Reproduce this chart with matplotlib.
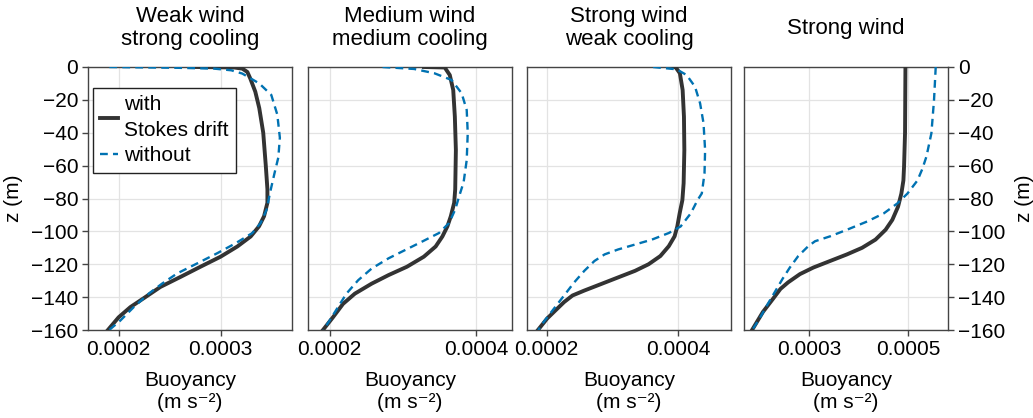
import numpy as np
import matplotlib
matplotlib.use("Agg")
import matplotlib.pyplot as plt
from matplotlib.ticker import FormatStrFormatter

plt.rcParams["font.family"] = ["Liberation Sans", "DejaVu Sans"]
plt.rcParams["font.size"] = 15

# buoyancy profiles, b in units of 1e-4 m s^-2, z in m
titles = ["Weak wind\nstrong cooling", "Medium wind\nmedium cooling",
          "Strong wind\nweak cooling", "Strong wind"]

z1_with = [0, -0.3, -1, -3, -7, -15, -25, -40, -60, -74.4, -82.6, -90.8, -96.9,
           -103.1, -109.2, -115.4, -121.5, -127.7, -133.8, -140, -146.1, -152.3, -160]
b1_with = [2.762, 3.134, 3.213, 3.262, 3.291, 3.340, 3.379, 3.418, 3.443, 3.459,
           3.459, 3.426, 3.377, 3.295, 3.164, 3.000, 2.803, 2.607, 2.410, 2.262,
           2.115, 2.000, 1.895]
z1_without = [0, -0.5, -1, -2, -4, -10, -17, -29, -43, -55, -65, -76.4, -86.7, -94.9,
              -101, -107.2, -113.3, -119.5, -125.6, -131.8, -137.9, -146.1, -154.3, -160]
b1_without = [1.909, 2.595, 2.938, 3.105, 3.213, 3.379, 3.497, 3.556, 3.581, 3.566,
              3.527, 3.485, 3.452, 3.393, 3.311, 3.148, 2.967, 2.770, 2.574, 2.426,
              2.295, 2.148, 2.016, 1.908]

z2_with = [0, -0.3, -4.9, -14, -30.2, -50.5, -74.4, -82.6, -90.8, -96.9, -103.1,
           -109.2, -115.4, -121.5, -126.6, -131.8, -137.9, -144.1, -152.3, -160]
b2_with = [3.288, 3.572, 3.641, 3.688, 3.710, 3.724, 3.715, 3.701, 3.655, 3.609,
           3.540, 3.448, 3.287, 3.057, 2.805, 2.575, 2.345, 2.184, 2.046, 1.910]
z2_without = [0, -1.2, -3.8, -7.9, -16, -26.2, -40.1, -56.6, -70, -78.5, -86.7,
              -94.9, -101, -106.2, -111.3, -116.4, -122.6, -129.7, -137.9, -146.1,
              -154.3, -160]
b2_without = [2.723, 3.154, 3.430, 3.665, 3.803, 3.872, 3.886, 3.872, 3.830, 3.770,
              3.715, 3.632, 3.494, 3.264, 3.034, 2.805, 2.575, 2.391, 2.230, 2.115,
              2.000, 1.915]

z3_with = [0, -0.2, -3.8, -14, -30.2, -50.5, -70.7, -81, -89, -97, -103, -109, -115,
           -120, -124, -128, -132, -136, -139, -143, -148, -153, -160]
b3_with = [3.928, 3.960, 4.024, 4.066, 4.086, 4.092, 4.081, 4.062, 4.021, 3.985,
           3.944, 3.856, 3.728, 3.549, 3.344, 3.087, 2.831, 2.574, 2.395, 2.267,
           2.138, 2.010, 1.870]
z3_without = [0, -1.4, -4.9, -12, -22.1, -34.2, -50.5, -64.7, -76.9, -81, -89, -97,
              -101, -105, -108, -111, -114, -118, -124, -131, -139, -147, -155, -160]
b3_without = [3.617, 3.974, 4.127, 4.254, 4.331, 4.383, 4.407, 4.398, 4.357, 4.292,
              4.190, 4.036, 3.856, 3.600, 3.344, 3.087, 2.882, 2.728, 2.574, 2.421,
              2.267, 2.113, 1.959, 1.875]

z4_with = [0, -40, -60.6, -69, -77, -85, -93, -99, -105, -110, -114, -118, -122,
           -126, -131, -135, -141, -149, -160]
b4_with = [4.940, 4.932, 4.912, 4.899, 4.858, 4.791, 4.676, 4.541, 4.338, 4.068,
           3.764, 3.426, 3.088, 2.818, 2.581, 2.426, 2.277, 2.074, 1.855]
z4_without = [0, -20, -40.3, -54.5, -62, -69, -77, -83, -89, -94, -99, -103, -106,
              -109, -115, -122, -129, -137, -145, -153, -160]
b4_without = [5.549, 5.515, 5.462, 5.362, 5.280, 5.182, 4.980, 4.777, 4.507, 4.169,
              3.764, 3.426, 3.122, 2.986, 2.784, 2.615, 2.466, 2.311, 2.155, 2.007,
              1.860]

profiles = [
    (z1_with, b1_with, z1_without, b1_without),
    (z2_with, b2_with, z2_without, b2_without),
    (z3_with, b3_with, z3_without, b3_without),
    (z4_with, b4_with, z4_without, b4_without),
]
xlims = [(1.70, 3.70), (1.706, 4.49), (1.704, 4.80), (1.693, 5.796)]
xticks = [[2, 3], [2, 4], [2, 4], [3, 5]]

dark = "#333333"
blue = "#0072b2"

fig = plt.figure(figsize=(10.33, 4.18), dpi=100)
W, H = 1033, 418
lefts = [88, 308, 527, 744]
for i, left in enumerate(lefts):
    ax = fig.add_axes([left / W, 88 / H, 204 / W, 263 / H])
    zw, bw, zo, bo = profiles[i]
    ax.plot(np.array(bw) * 1e-4, zw, color=dark, lw=2.8, solid_joinstyle="round",
            label="with\nStokes drift", zorder=3)
    ax.plot(np.array(bo) * 1e-4, zo, color=blue, lw=1.7, ls=(0, (3.3, 2.2)),
            label="without", zorder=4)
    ax.set_xlim(xlims[i][0] * 1e-4, xlims[i][1] * 1e-4)
    ax.set_ylim(-160, 0)
    ax.set_xticks(np.array(xticks[i]) * 1e-4)
    ax.xaxis.set_major_formatter(FormatStrFormatter("%.4f"))
    ax.set_yticks(np.arange(-160, 1, 20))
    ax.grid(True, color="#e3e3e3", lw=0.9)
    ax.set_axisbelow(True)
    for s in ax.spines.values():
        s.set_color("#444444")
        s.set_linewidth(1.0)
    ax.tick_params(axis="x", direction="out", length=4, width=1, color="#444444", pad=3)
    if i == 0:
        ax.tick_params(axis="y", direction="out", length=4, width=1, color="#444444", pad=3)
        ax.set_ylabel("z (m)", labelpad=6)
        leg = ax.legend(loc="upper left", bbox_to_anchor=(0.025, 0.92), borderaxespad=0,
                        fancybox=False, framealpha=1, edgecolor="#222222",
                        handlelength=0.85, handletextpad=0.3, borderpad=0.35,
                        labelspacing=0.3)
        leg.get_frame().set_linewidth(1.0)
        leg.get_texts()[0].set_linespacing(1.45)
    elif i == 3:
        ax.yaxis.tick_right()
        ax.yaxis.set_label_position("right")
        ax.tick_params(axis="y", direction="out", length=4, width=1, color="#444444", pad=3)
        ax.set_ylabel("z (m)", labelpad=7)
    else:
        ax.tick_params(axis="y", length=0, labelleft=False)
    ax.set_xlabel("Buoyancy\n(m s⁻²)", labelpad=9, linespacing=1.2)
    ax.text(0.5, 1.148, titles[i], transform=ax.transAxes, ha="center", va="center",
            linespacing=1.15, fontsize=16)

fig.savefig("out.png", dpi=100)
